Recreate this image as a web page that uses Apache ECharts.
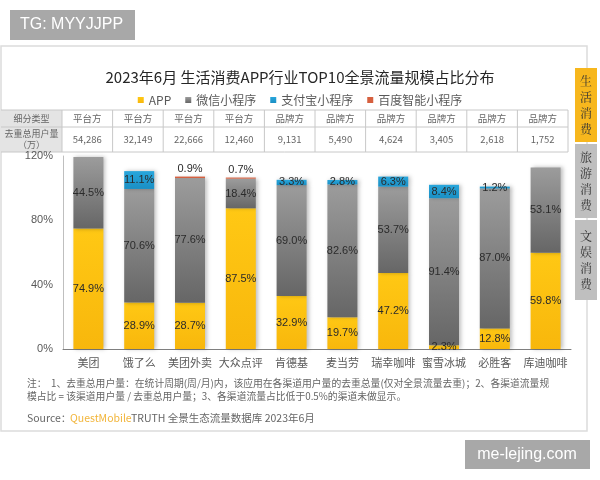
<!DOCTYPE html>
<html>
<head>
<meta charset="utf-8">
<script src="https://cdn.jsdelivr.net/npm/echarts@6/dist/echarts.min.js"></script>
<style>
  html, body { margin: 0; padding: 0; background: #fff; }
  #chart { width: 600px; height: 480px; }
</style>
</head>
<body>
<div id="chart"></div>
<script>
// 数据
const categories = ['美团', '饿了么', '美团外卖', '大众点评', '肯德基', '麦当劳', '瑞幸咖啡', '蜜雪冰城', '必胜客', '库迪咖啡']
const appData = [74.9, 28.9, 28.7, 87.5, 32.9, 19.7, 47.2, 2.3, 12.8, 59.8]
const wechatData = [44.5, 70.6, 77.6, 18.4, 69.0, 82.6, 53.7, 91.4, 87.0, 53.1]
const alipayData = [null, 11.1, null, null, 3.3, 2.8, 6.3, 8.4, 1.2, null]
const baiduData = [null, null, 0.9, 0.7, null, null, null, null, null, null]
const typeRow = ['平台方', '平台方', '平台方', '平台方', '品牌方', '品牌方', '品牌方', '品牌方', '品牌方', '品牌方']
const userRow = [54286, 32149, 22666, 12460, 9131, 5490, 4624, 3405, 2618, 1752]
const yTicks = [0, 40, 80, 120]

const FONT = '"Noto Sans CJK SC", "Microsoft YaHei", sans-serif'
const chart = echarts.init(document.getElementById('chart'), null, { renderer: 'canvas' })

// 表格 (细分类型 / 去重总用户量)
const tableLeft = 1, firstColW = 61, colW = 50.6
const row1Top = 110, row1H = 17, row2H = 25
const tableEls = []
const lineColor = '#c8c8c8'
tableEls.push({ type: 'rect', shape: { x: tableLeft, y: row1Top, width: firstColW, height: row1H + row2H }, style: { fill: '#e4e4e4' } })
tableEls.push({ type: 'text', style: { x: tableLeft + firstColW / 2, y: row1Top + row1H / 2, text: '细分类型', fill: '#666', font: '9px ' + FONT, align: 'center', verticalAlign: 'middle' } })
tableEls.push({ type: 'text', style: { x: tableLeft + firstColW / 2, y: row1Top + row1H + row2H / 2, text: '去重总用户量\n（万）', fill: '#666', font: '9px ' + FONT, align: 'center', verticalAlign: 'middle', lineHeight: 11 } })
typeRow.forEach(function (t, i) {
  const cx = tableLeft + firstColW + colW * i + colW / 2
  tableEls.push({ type: 'text', style: { x: cx, y: row1Top + row1H / 2, text: t, fill: '#666', font: '9.5px ' + FONT, align: 'center', verticalAlign: 'middle' } })
  tableEls.push({ type: 'text', style: { x: cx, y: row1Top + row1H + row2H / 2, text: userRow[i].toLocaleString('en-US'), fill: '#666', font: '9.5px ' + FONT, align: 'center', verticalAlign: 'middle' } })
})
const tableRight = tableLeft + firstColW + colW * 10
;[row1Top, row1Top + row1H, row1Top + row1H + row2H].forEach(function (y) {
  tableEls.push({ type: 'line', shape: { x1: tableLeft, y1: y, x2: tableRight, y2: y }, style: { stroke: lineColor, lineWidth: 1 } })
})
for (let i = 0; i <= 10; i++) {
  const x = tableLeft + firstColW + colW * i
  tableEls.push({ type: 'line', shape: { x1: x, y1: row1Top, x2: x, y2: row1Top + row1H + row2H }, style: { stroke: lineColor, lineWidth: 1 } })
}

// 右侧标签
const tabs = [
  { text: '生\n活\n消\n费', y: 68, h: 74, fill: '#f7b71d' },
  { text: '旅\n游\n消\n费', y: 144, h: 74, fill: '#bfbfbf' },
  { text: '文\n娱\n消\n费', y: 220, h: 80, fill: '#bfbfbf' }
]
const tabEls = []
tabs.forEach(function (t) {
  tabEls.push({ type: 'rect', shape: { x: 575, y: t.y, width: 22, height: t.h }, style: { fill: t.fill } })
  tabEls.push({ type: 'text', style: { x: 586, y: t.y + t.h / 2, text: t.text, fill: '#333', font: '12px "Noto Serif CJK SC", ' + FONT, align: 'center', verticalAlign: 'middle', lineHeight: 16 } })
})

const grayGrad = new echarts.graphic.LinearGradient(0, 0, 0, 1, [
  { offset: 0, color: '#9c9c9c' }, { offset: 1, color: '#666666' }
])
const yellowGrad = new echarts.graphic.LinearGradient(0, 0, 0, 1, [
  { offset: 0, color: '#ffc814' }, { offset: 1, color: '#f8b70c' }
])
const blueGrad = new echarts.graphic.LinearGradient(0, 0, 0, 1, [
  { offset: 0, color: '#28a6dc' }, { offset: 1, color: '#1a8fc4' }
])

const pct = function (p) { return p.value == null ? '' : p.value.toFixed(1) + '%' }
const segLabel = { show: true, position: 'inside', formatter: pct, color: '#2b2b2b', fontSize: 11, fontFamily: 'Arial, ' + FONT }
const shadow = { shadowBlur: 4, shadowColor: 'rgba(0,0,0,0.25)', shadowOffsetX: 2, shadowOffsetY: 0 }

const option = {
  animation: false,
  backgroundColor: '#fff',
  title: {
    text: '2023年6月 生活消费APP行业TOP10全景流量规模占比分布',
    left: 'center',
    top: 65,
    textStyle: { fontSize: 15, fontWeight: 'normal', color: '#262626', fontFamily: FONT }
  },
  legend: {
    top: 89,
    left: 'center',
    icon: 'rect',
    itemWidth: 6,
    itemHeight: 6,
    itemGap: 14,
    textStyle: { fontSize: 12, color: '#595959', fontFamily: FONT },
    data: ['APP', '微信小程序', '支付宝小程序', '百度智能小程序']
  },
  grid: { left: 63, right: 29, top: 156, bottom: 131, containLabel: false },
  xAxis: {
    type: 'category',
    data: categories,
    axisLine: { lineStyle: { color: '#7f7f7f' } },
    axisTick: { show: false },
    axisLabel: { interval: 0, color: '#595959', fontSize: 11, fontFamily: FONT, margin: 8 }
  },
  yAxis: {
    type: 'value',
    min: 0,
    max: 120,
    interval: 40,
    axisLine: { show: true, lineStyle: { color: '#bfbfbf' } },
    axisTick: { show: false },
    splitLine: { show: false },
    axisLabel: { color: '#595959', fontSize: 11, fontFamily: 'Arial, ' + FONT, margin: 10, formatter: function (v) { return yTicks.indexOf(v) >= 0 ? v + '%' : '' } }
  },
  series: [
    { name: 'APP', type: 'bar', stack: 't', barWidth: 30, data: appData, itemStyle: Object.assign({ color: yellowGrad }, shadow), label: segLabel },
    { name: '微信小程序', type: 'bar', stack: 't', data: wechatData, itemStyle: Object.assign({ color: grayGrad }, shadow), label: segLabel },
    { name: '支付宝小程序', type: 'bar', stack: 't', data: alipayData, itemStyle: Object.assign({ color: blueGrad }, shadow), label: segLabel },
    { name: '百度智能小程序', type: 'bar', stack: 't', data: baiduData, itemStyle: { color: '#d6603f' }, label: Object.assign({}, segLabel, { position: 'top', distance: 2 }) }
  ],
  graphic: [
    // 顶部水印标签
    { type: 'rect', shape: { x: 10, y: 10, width: 125, height: 30 }, style: { fill: '#a8a8a8' } },
    { type: 'text', style: { x: 20, y: 25, text: 'TG: MYYJJPP', fill: '#fff', font: '16px Arial, sans-serif', verticalAlign: 'middle' } },
    // 卡片边框
    { type: 'rect', shape: { x: 1, y: 46, width: 586, height: 385 }, style: { fill: 'none', stroke: '#dcdcdc', lineWidth: 1.5 } },
    { type: 'group', children: tableEls },
    { type: 'group', children: tabEls },
    // 注释与来源
    { type: 'text', style: { x: 27, y: 383, text: '注：  1、去重总用户量：在统计周期(周/月)内，该应用在各渠道用户量的去重总量(仅对全景流量去重)；2、各渠道流量规', fill: '#666', font: '9.8px ' + FONT, verticalAlign: 'middle' } },
    { type: 'text', style: { x: 27, y: 396, text: '模占比 = 该渠道用户量 / 去重总用户量；3、各渠道流量占比低于0.5%的渠道未做显示。', fill: '#666', font: '9.8px ' + FONT, verticalAlign: 'middle' } },
    { type: 'text', style: { x: 27, y: 418, text: 'Source：', fill: '#666', font: '10.5px ' + FONT, verticalAlign: 'middle' } },
    { type: 'text', style: { x: 70, y: 418, text: 'QuestMobile', fill: '#f2b53a', font: '10.5px ' + FONT, verticalAlign: 'middle' } },
    { type: 'text', style: { x: 131, y: 418, text: 'TRUTH 全景生态流量数据库 2023年6月', fill: '#666', font: '10.5px ' + FONT, verticalAlign: 'middle' } },
    // 右下角水印
    { type: 'rect', shape: { x: 465, y: 440, width: 125, height: 29 }, style: { fill: '#a8a8a8' } },
    { type: 'text', style: { x: 527, y: 455, text: 'me-lejing.com', fill: '#fff', font: '16px Arial, sans-serif', align: 'center', verticalAlign: 'middle' } }
  ]
}

option && chart.setOption(option)
</script>
</body>
</html>
